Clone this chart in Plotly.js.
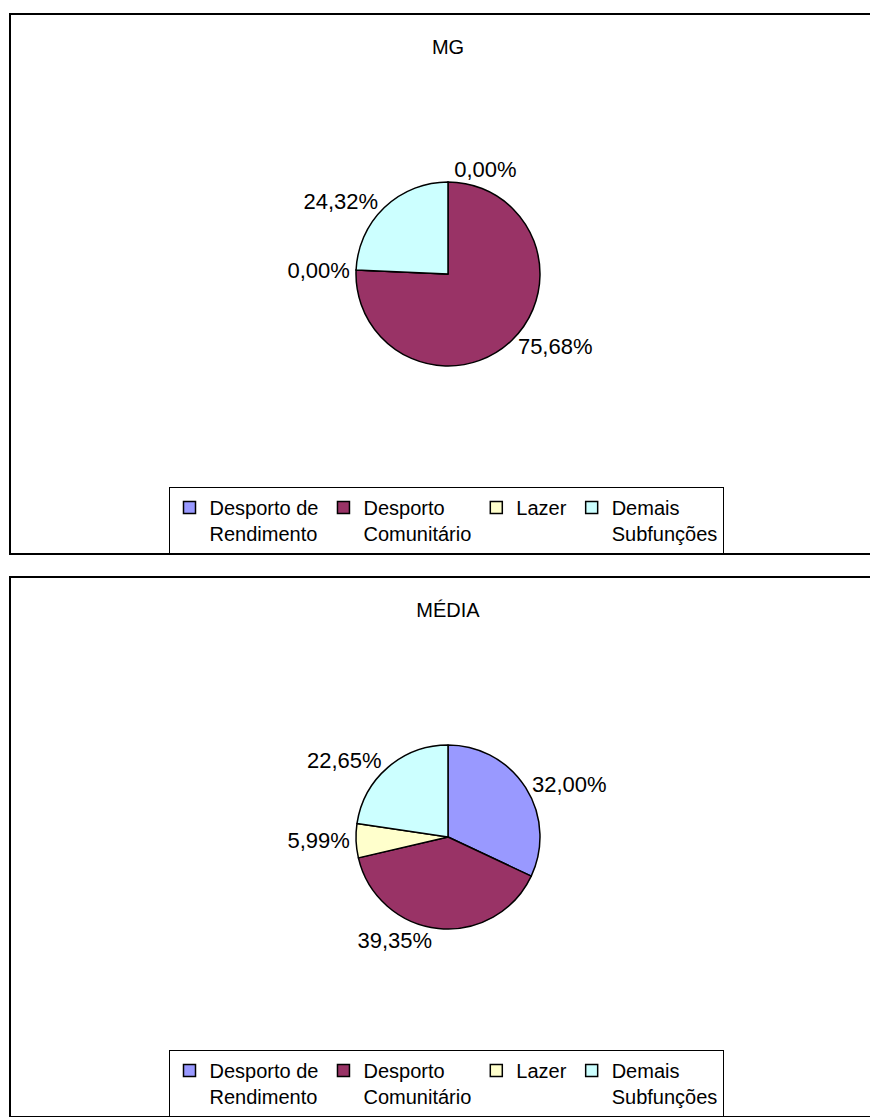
<!DOCTYPE html>
<html>
<head>
<meta charset="utf-8">
<script src="https://cdn.plot.ly/plotly-3.0.1.min.js"></script>
<style>
  html, body { margin: 0; padding: 0; background: #fff; }
  body { width: 870px; height: 1117px; position: relative; overflow: hidden; }
  .panel { position: absolute; left: 0; width: 870px; }
</style>
</head>
<body>
<div id="top" class="panel" style="top:0px;height:565px;"></div>
<div id="bottom" class="panel" style="top:565px;height:552px;"></div>
<script>
const categories = ['Desporto de<br>Rendimento', 'Desporto<br>Comunitário', 'Lazer', 'Demais<br>Subfunções'];
const colors = ['#9999FF', '#993366', '#FFFFCC', '#CCFFFF'];
const titleMG = 'MG';
const valuesMG = [0.00, 75.68, 0.00, 24.32];
const titleMedia = 'MÉDIA';
const valuesMedia = [32.00, 39.35, 5.99, 22.65];

const FONT = 'Liberation Sans, Arial, sans-serif';

function draw(id, title, values, H, boxTop) {
  const W = 870;
  const cx = 448, cy = boxTop + 260, r = 92;
  const trace = {
    type: 'pie',
    labels: categories,
    values: values,
    sort: false,
    direction: 'clockwise',
    rotation: 0,
    marker: { colors: colors, line: { color: '#000', width: 1.5 } },
    texttemplate: '%{value:.2f}%',
    textposition: 'outside',
    textfont: { family: FONT, size: 22, color: '#000' },
    hoverinfo: 'none',
    domain: {
      x: [(cx - r) / W, (cx + r) / W],
      y: [1 - (cy + r) / H, 1 - (cy - r) / H]
    },
    showlegend: true
  };
  const layout = {
    width: W, height: H,
    margin: { l: 0, r: 0, t: 0, b: 0 },
    paper_bgcolor: '#fff',
    separators: ',.',
    font: { family: FONT, color: '#000' },
    title: {
      text: title,
      font: { family: FONT, size: 20, color: '#000' },
      x: 448 / W, xanchor: 'center',
      y: 1 - (boxTop + 33) / H, yanchor: 'middle'
    },
    showlegend: true,
    legend: {
      orientation: 'h',
      x: 446 / W, xanchor: 'center',
      y: 1 - (boxTop + 473) / H, yanchor: 'top',
      bordercolor: '#000', borderwidth: 1,
      bgcolor: '#fff',
      font: { family: FONT, size: 20, color: '#000' },
      traceorder: 'normal',
      valign: 'top',
      tracegroupgap: 0
    },
    shapes: [
      {
        type: 'rect', xref: 'paper', yref: 'paper',
        x0: 10 / W, x1: 1.05,
        y0: 1 - (boxTop + 540) / H, y1: 1 - boxTop / H,
        line: { color: '#000', width: 2 }
      }
    ]
  };
  Plotly.newPlot(id, [trace], layout, { staticPlot: true, displayModeBar: false });
}

draw('top', titleMG, valuesMG, 565, 14);
draw('bottom', titleMedia, valuesMedia, 552, 12);
</script>
</body>
</html>
